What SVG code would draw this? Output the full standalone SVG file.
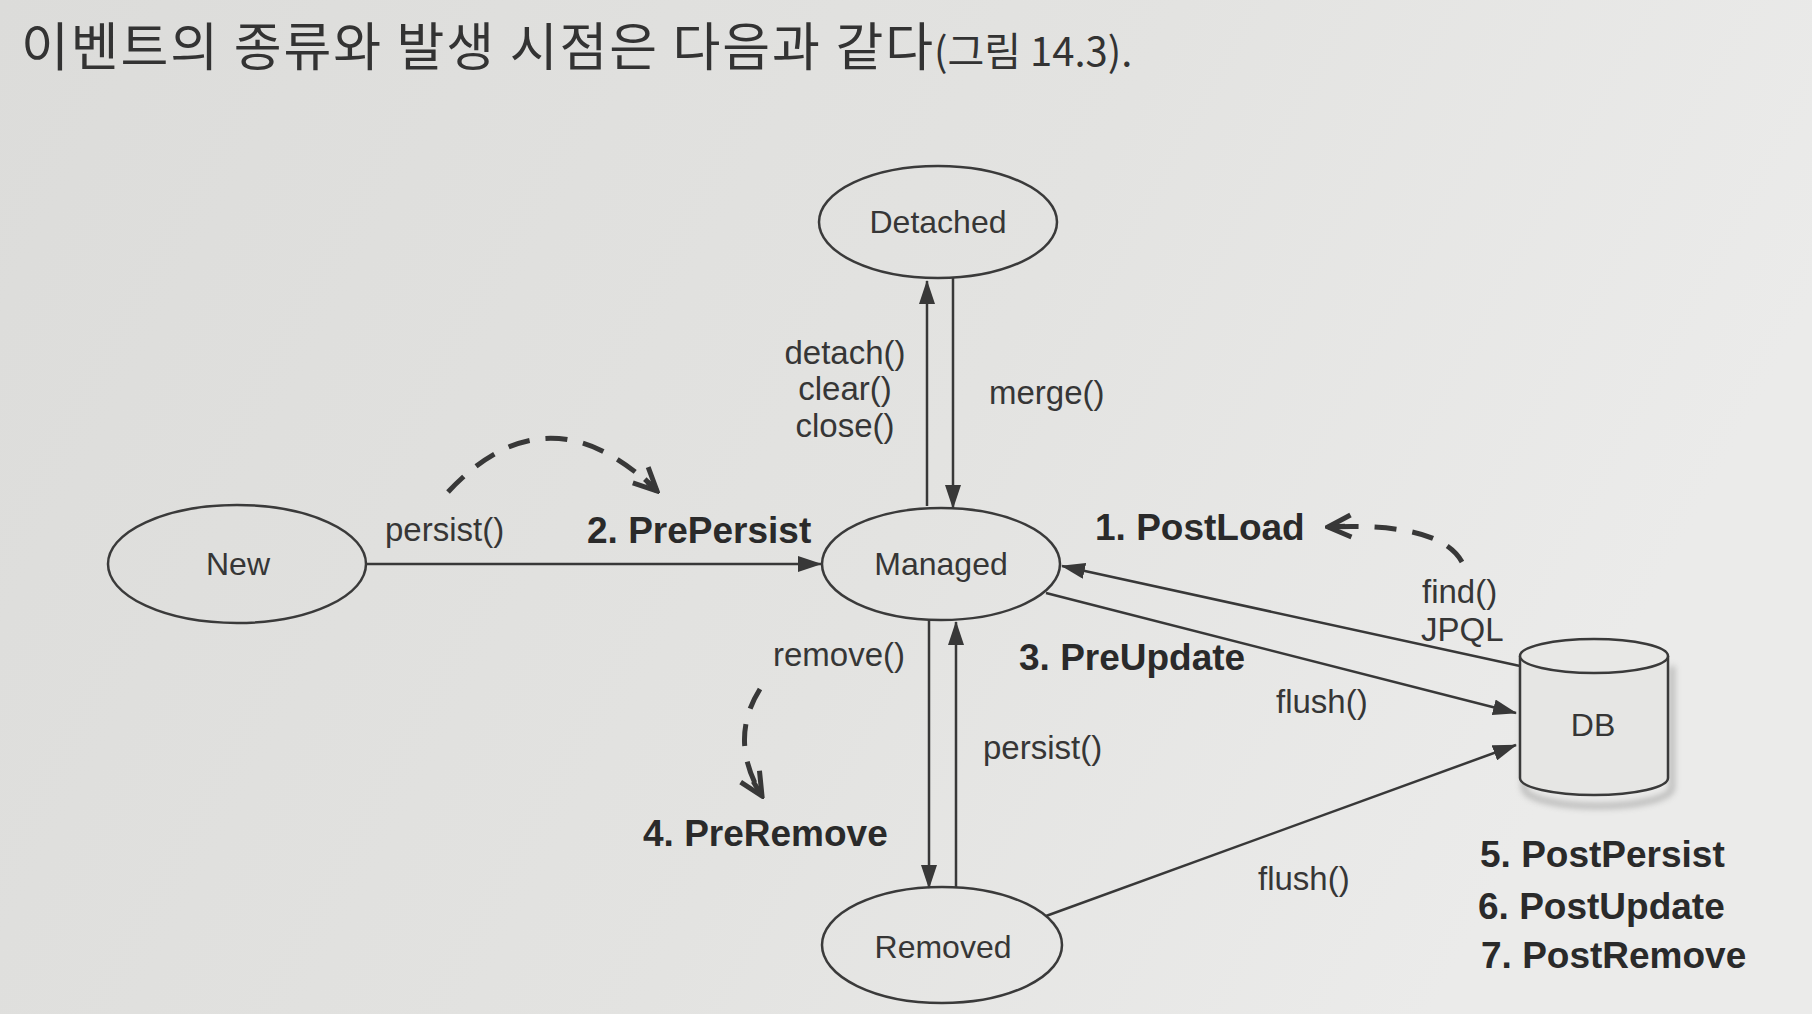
<svg xmlns="http://www.w3.org/2000/svg" width="1812" height="1014" viewBox="0 0 1812 1014">
  <defs>
    <linearGradient id="paper" x1="0" y1="0" x2="1" y2="0.3">
      <stop offset="0" stop-color="#dcdcda"/>
      <stop offset="0.6" stop-color="#e3e3e1"/>
      <stop offset="1" stop-color="#ebebea"/>
    </linearGradient>
    <marker id="arr" viewBox="0 0 24 16" refX="23" refY="8" markerWidth="24" markerHeight="16" markerUnits="userSpaceOnUse" orient="auto">
      <path d="M0,0 L24,8 L0,16 z" fill="#383838"/>
    </marker>
    <marker id="open" viewBox="0 0 30 30" refX="27" refY="15" markerWidth="30" markerHeight="30" markerUnits="userSpaceOnUse" orient="auto">
      <path d="M4,4 L27,15 L4,26" fill="none" stroke="#383838" stroke-width="5" stroke-linejoin="miter"/>
      <path d="M10,15 L27,15" fill="none" stroke="#383838" stroke-width="5"/>
    </marker>
    <filter id="blur" x="-20%" y="-20%" width="140%" height="140%">
      <feGaussianBlur stdDeviation="3"/>
    </filter>
  </defs>
  <style>
    .node { fill: none; stroke: #3a3a3a; stroke-width: 2.5; }
    .lbl { font-family: "Liberation Sans", Arial, sans-serif; font-size: 33px; fill: #363636; }
    .nlbl { font-family: "Liberation Sans", Arial, sans-serif; font-size: 32px; fill: #363636; text-anchor: middle; }
    .bold { font-family: "Liberation Sans", Arial, sans-serif; font-size: 37px; font-weight: bold; fill: #2a2a2a; }
    .line { fill: none; stroke: #383838; stroke-width: 2.5; marker-end: url(#arr); }
    .dash { fill: none; stroke: #383838; stroke-width: 5; stroke-dasharray: 22 16; marker-end: url(#open); }
    .title { font-family: "Noto Sans CJK KR", "Noto Sans", sans-serif; fill: #333333; }
  </style>

  <rect x="0" y="0" width="1812" height="1014" fill="url(#paper)"/>

  <g id="title">
    <text class="title" x="21" y="66" font-size="52" textLength="912" lengthAdjust="spacing">이벤트의 종류와 발생 시점은 다음과 같다</text>
    <text class="title" x="934" y="66" font-size="40">(그림 14.3).</text>
  </g>

  <g id="connectors">
    <line class="line" x1="927" y1="506" x2="927" y2="281"/>
    <line class="line" x1="953" y1="278" x2="953" y2="508"/>
    <line class="line" x1="367" y1="564" x2="821" y2="564"/>
    <line class="line" x1="929" y1="620" x2="929" y2="888"/>
    <line class="line" x1="956" y1="888" x2="956" y2="622"/>
    <line class="line" x1="1520" y1="666" x2="1062" y2="566"/>
    <line class="line" x1="1046" y1="593" x2="1516" y2="713"/>
    <line class="line" x1="1046" y1="916" x2="1516" y2="745"/>
    <path class="dash" d="M448,492 Q548,385 657,491"/>
    <path class="dash" d="M1462,562 Q1440,522 1328,527"/>
    <path class="dash" d="M760,689 Q728,740 762,796"/>
  </g>

  <g id="detached">
    <ellipse class="node" cx="938" cy="222" rx="119" ry="56"/>
    <text class="nlbl" x="938" y="233">Detached</text>
  </g>

  <g id="new">
    <ellipse class="node" cx="237" cy="564" rx="129" ry="59"/>
    <text class="nlbl" x="238" y="575" font-size="35">New</text>
  </g>

  <g id="managed">
    <ellipse class="node" cx="941" cy="564" rx="119" ry="56"/>
    <text class="nlbl" x="941" y="575">Managed</text>
  </g>

  <g id="removed">
    <ellipse class="node" cx="942" cy="945" rx="120" ry="58"/>
    <text class="nlbl" x="943" y="958">Removed</text>
  </g>

  <g id="db">
    <path d="M1522,660 L1522,782 A74,18 0 0 0 1670,782 L1670,660" fill="none" stroke="#777" stroke-width="5" opacity="0.5" filter="url(#blur)" transform="translate(2,6)"/>
    <path d="M1520,656 L1520,778 A74,17 0 0 0 1668,778 L1668,656" fill="#e6e6e4" stroke="#3a3a3a" stroke-width="2.5"/>
    <ellipse cx="1594" cy="656" rx="74" ry="17" fill="#e8e8e6" stroke="#3a3a3a" stroke-width="2.5"/>
    <text class="nlbl" x="1593" y="736">DB</text>
  </g>

  <g id="labels">
    <text class="lbl" x="385" y="541">persist()</text>
    <text class="bold" x="587" y="543">2. PrePersist</text>
    <text class="lbl" x="845" y="364" text-anchor="middle">detach()</text>
    <text class="lbl" x="845" y="400" text-anchor="middle">clear()</text>
    <text class="lbl" x="845" y="437" text-anchor="middle">close()</text>
    <text class="lbl" x="989" y="404">merge()</text>
    <text class="bold" x="1095" y="540">1. PostLoad</text>
    <text class="lbl" x="1422" y="603">find()</text>
    <text class="lbl" x="1421" y="641">JPQL</text>
    <text class="bold" x="1019" y="670">3. PreUpdate</text>
    <text class="lbl" x="1276" y="713">flush()</text>
    <text class="lbl" x="773" y="666">remove()</text>
    <text class="lbl" x="983" y="759">persist()</text>
    <text class="bold" x="643" y="846">4. PreRemove</text>
    <text class="lbl" x="1258" y="890">flush()</text>
    <text class="bold" x="1480" y="867">5. PostPersist</text>
    <text class="bold" x="1478" y="919">6. PostUpdate</text>
    <text class="bold" x="1481" y="968">7. PostRemove</text>
  </g>
</svg>
